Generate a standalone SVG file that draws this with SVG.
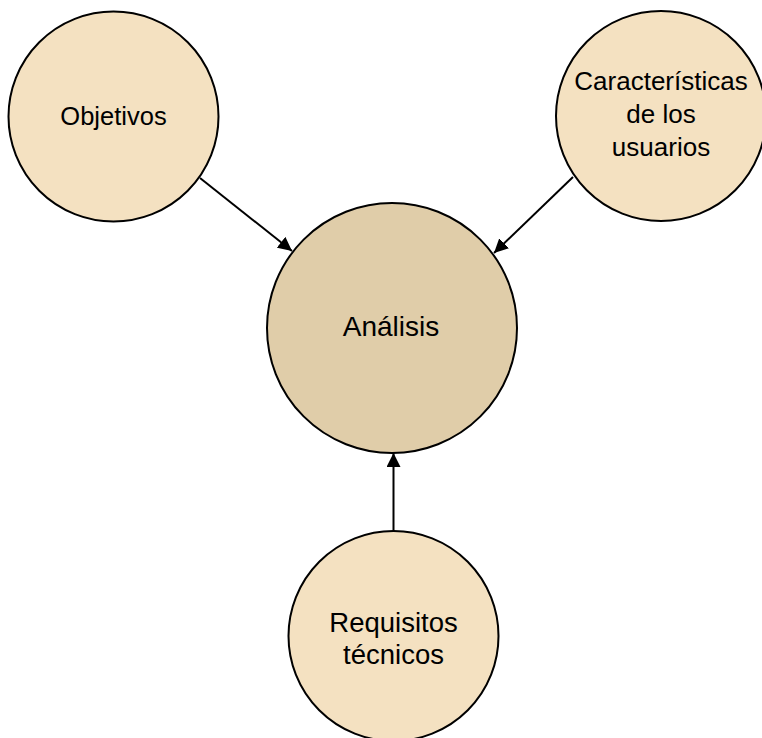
<svg xmlns="http://www.w3.org/2000/svg" width="762" height="738" viewBox="0 0 762 738">
<style>
.n{fill:#F4E1C1;stroke:#000;stroke-width:2}
.m{fill:#E0CDA9;stroke:#000;stroke-width:2}
.t{font-family:"Liberation Sans",Arial,sans-serif;fill:#000;text-anchor:middle}
.c{stroke:#000;stroke-width:2;fill:none;marker-end:url(#ah)}
</style>
<defs>
<marker id="ah" markerUnits="userSpaceOnUse" markerWidth="15" markerHeight="14" refX="14" refY="7" orient="auto">
<path d="M0,0 L14,7 L0,14 z" fill="#000"/>
</marker>
</defs>
<rect width="762" height="738" fill="#fff"/>
<g id="connectors">
<line class="c" x1="200" y1="178" x2="292" y2="251"/>
<line class="c" x1="573" y1="177" x2="494" y2="253"/>
<line class="c" x1="393.5" y1="531" x2="393.5" y2="453"/>
</g>
<g id="objetivos">
<circle class="n" cx="113.5" cy="116.5" r="105"/>
<text class="t" x="113.5" y="125" font-size="25.5">Objetivos</text>
</g>
<g id="caracteristicas">
<circle class="n" cx="661" cy="116" r="105"/>
<text class="t" x="661" y="90" font-size="26">Características</text>
<text class="t" x="661" y="123" font-size="26">de los</text>
<text class="t" x="661" y="156" font-size="26">usuarios</text>
</g>
<g id="analisis">
<circle class="m" cx="392" cy="328" r="125"/>
<text class="t" x="391" y="336" font-size="28">Análisis</text>
</g>
<g id="requisitos">
<circle class="n" cx="393.5" cy="636" r="105"/>
<text class="t" x="393.5" y="632" font-size="27.5">Requisitos</text>
<text class="t" x="393.5" y="664" font-size="27.5">técnicos</text>
</g>
</svg>
